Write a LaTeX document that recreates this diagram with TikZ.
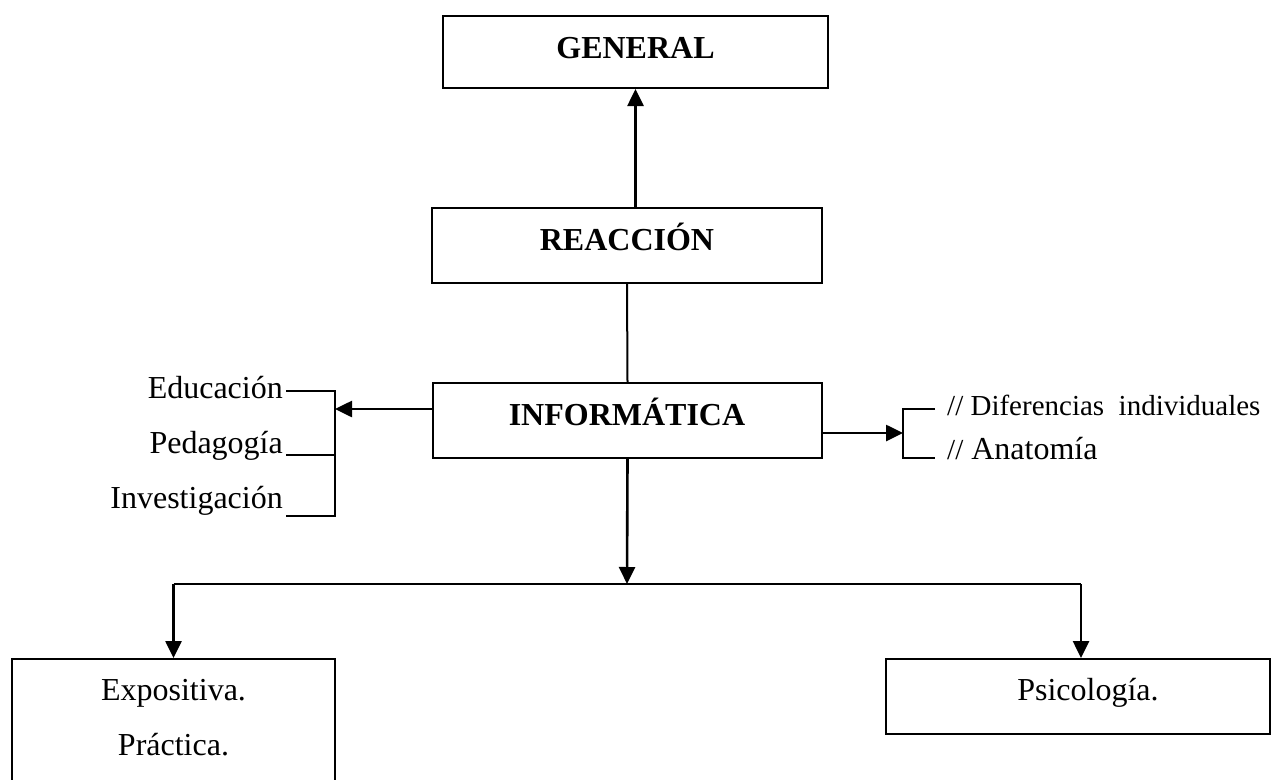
\documentclass[tikz,border=0pt]{standalone}
\usepackage{fontspec}
\setmainfont{Liberation Serif}
\usetikzlibrary{arrows.meta}
\begin{document}
\begin{tikzpicture}[x=1pt,y=-1pt,
  box/.style={draw,line width=2pt,inner sep=0pt},
  txt/.style={font=\fontsize{32}{38}\selectfont,inner sep=0pt},
  stxt/.style={font=\fontsize{29}{35}\selectfont,inner sep=0pt},
  btxt/.style={font=\fontsize{32}{38}\selectfont\bfseries,inner sep=0pt,anchor=base},
  conn/.style={line width=2.6pt},
  thin/.style={line width=2pt},
  arr/.style={line width=2.6pt,-{Triangle[length=17pt,width=16pt]}}]
\useasboundingbox (0,0) rectangle (1282,779);
% boxes
\node[box,minimum width=385,minimum height=72] (gen) at (635.5,52) {};
\node[btxt] (gent) at (635.5,58) {GENERAL};
\node[box,minimum width=390,minimum height=75] (reac) at (627,245.5) {};
\node[btxt] (react) at (627,250) {REACCIÓN};
\node[box,minimum width=389,minimum height=75] (info) at (627.5,420.5) {};
\node[btxt] (infot) at (627,425) {INFORMÁTICA};
\node[box,minimum width=323,minimum height=140] (expo) at (173.5,729) {};
\node[txt,anchor=base] (expot) at (173.5,700) {Expositiva.};
\node[txt,anchor=base] (pract) at (173.5,755) {Práctica.};
\node[box,minimum width=384,minimum height=75] (psic) at (1078,696.5) {};
\node[txt,anchor=base] (psict) at (1088,700) {Psicología.};
% left labels
\node[txt,anchor=base east] (edu) at (283,398) {Educación};
\node[txt,anchor=base east] (ped) at (283,453) {Pedagogía};
\node[txt,anchor=base east] (inv) at (283,508) {Investigación};
% right labels
\node[stxt,anchor=base west] (dif) at (947,415) {// Diferencias\ \ individuales};
\node[txt,anchor=base west] (ana) at (947,459) {{\fontsize{29}{35}\selectfont//} Anatomía};
% coordinates
\coordinate (lb) at (335,409);
\coordinate (lt) at (335,391);
\coordinate (lm) at (335,455);
\coordinate (lbot) at (335,516);
\coordinate (rb) at (903,433);
\coordinate (rt) at (903,409);
\coordinate (rbot) at (903,458);
\coordinate (hub) at (627,584);
\coordinate (hl) at (173.5,584);
\coordinate (hr) at (1081,584);
% connectors
\draw[arr] (reac.north -| gen.south) -- (gen.south);
\draw[thin] (reac.south) -- (info.north);
\draw[arr] (info.west |- lb) -- (lb);
\draw[thin] (286,391) -- (lt) -- (lbot) -- (286,516);
\draw[thin] (286,455) -- (lm);
\draw[arr] (info.east |- rb) -- (rb);
\draw[thin] (935,409) -- (rt) -- (rbot) -- (935,458);
\draw[arr] (info.south) -- (hub);
\draw[conn] (hl) -- (hr);
\draw[arr] (hl) -- (expo.north);
\draw[arr] (hr) -- (hr |- psic.north);
\end{tikzpicture}
\end{document}
